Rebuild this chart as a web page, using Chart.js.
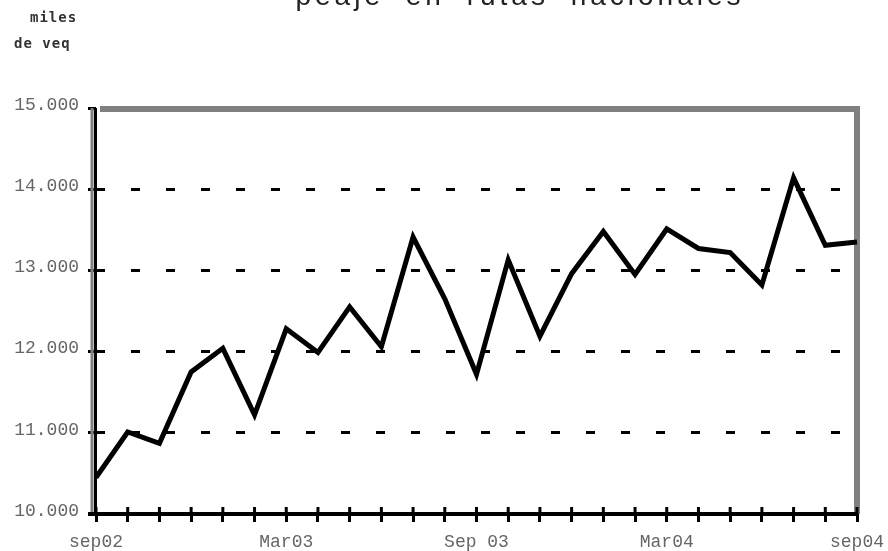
<!DOCTYPE html>
<html>
<head>
<meta charset="utf-8">
<script src="https://cdn.jsdelivr.net/npm/chart.js@4"></script>
<style>
html,body{margin:0;padding:0;background:#fff;overflow:hidden;}
#wrap{position:relative;width:888px;height:551px;overflow:hidden;}
#c{position:absolute;left:0;top:0;}
#title{position:absolute;left:96px;width:848px;text-align:center;top:-18px;font-family:"Liberation Sans",Arial,sans-serif;font-size:28px;line-height:28px;letter-spacing:4px;word-spacing:10px;color:#222;white-space:nowrap;}
.unit{position:absolute;font-family:"DejaVu Sans Mono",monospace;font-weight:bold;font-size:14px;line-height:16px;color:#333;letter-spacing:1px;white-space:nowrap;}
</style>
</head>
<body>
<div id="wrap">
<canvas id="c" width="888" height="551" style="width:888px;height:551px"></canvas>
<div id="title">peaje en rutas nacionales</div>
<div class="unit" style="left:30px;top:9px">miles</div>
<div class="unit" style="left:14px;top:35px">de veq</div>
</div>
<script>
const months = ['sep02','oct02','nov02','dic02','ene03','feb03','mar03','abr03','may03','jun03','jul03','ago03','sep03','oct03','nov03','dic03','ene04','feb04','mar04','abr04','may04','jun04','jul04','ago04','sep04'];
const traffic = [10450,11010,10870,11750,12040,11220,12280,11990,12550,12060,13410,12650,11720,13130,12190,12960,13480,12950,13510,13270,13220,12820,14140,13310,13350];
const xTickLabels = ['sep02','Mar03','Sep 03','Mar04','sep04'];
const yTickValues = [10000,11000,12000,13000,14000,15000];
const yTickLabels = ['10.000','11.000','12.000','13.000','14.000','15.000'];

const axisPlugin = {
  id: 'axisDeco',
  beforeDatasetsDraw(chart) {
    const ctx = chart.ctx, a = chart.chartArea, x = chart.scales.x;
    ctx.save();
    ctx.lineCap = 'butt';
    ctx.strokeStyle = '#808080';
    ctx.lineWidth = 6;
    ctx.beginPath();
    ctx.moveTo(a.left + 4, a.top + 1);
    ctx.lineTo(a.right, a.top + 1);
    ctx.lineTo(a.right, a.bottom);
    ctx.stroke();
    ctx.lineWidth = 3;
    ctx.beginPath();
    ctx.moveTo(a.left - 4, a.top);
    ctx.lineTo(a.left - 4, a.bottom);
    ctx.stroke();
    ctx.strokeStyle = '#000';
    ctx.beginPath();
    ctx.moveTo(a.left - 0.5, a.top);
    ctx.lineTo(a.left - 0.5, a.bottom);
    ctx.stroke();
    ctx.lineWidth = 4;
    ctx.beginPath();
    ctx.moveTo(a.left - 8, a.bottom);
    ctx.lineTo(a.right, a.bottom);
    ctx.stroke();
    ctx.lineWidth = 3;
    x.ticks.forEach((t, i) => {
      const px = x.getPixelForTick(i);
      ctx.beginPath();
      ctx.moveTo(px, a.bottom - 7);
      ctx.lineTo(px, a.bottom);
      ctx.stroke();
    });
    ctx.restore();
  }
};

new Chart(document.getElementById('c'), {
  type: 'line',
  data: {
    labels: months,
    datasets: [{
      data: traffic,
      borderColor: '#000',
      borderWidth: 5,
      pointRadius: 0,
      tension: 0,
      fill: false
    }]
  },
  options: {
    responsive: false,
    animation: false,
    devicePixelRatio: 1,
    layout: { padding: { top: 108, right: 31, left: 0, bottom: 0 } },
    plugins: { legend: { display: false }, tooltip: { enabled: false }, title: { display: false } },
    scales: {
      x: {
        type: 'category',
        offset: false,
        grid: { display: true, drawOnChartArea: false, drawTicks: true, tickLength: 8, tickColor: '#000', tickWidth: 3, offset: false },
        border: { display: false },
        ticks: {
          autoSkip: false, maxRotation: 0, minRotation: 0, padding: 9,
          color: '#666', font: { family: 'Liberation Mono', size: 18 },
          callback: (v, i) => (i % 6 === 0 ? xTickLabels[i / 6] : '')
        },
        afterFit: s => { s.height = 37; s.paddingRight = 0; s.paddingLeft = 0; }
      },
      y: {
        min: 10000, max: 15000,
        afterBuildTicks: s => { s.ticks = yTickValues.map(v => ({ value: v })); },
        grid: {
          color: c => (c.tick && (c.tick.value === 10000 || c.tick.value === 15000)) ? 'rgba(0,0,0,0)' : '#000',
          lineWidth: 3, tickLength: 8, tickColor: '#000', tickWidth: 3, tickBorderDash: []
        },
        border: { display: false, dash: [9, 26] },
        ticks: {
          color: '#666', font: { family: 'Liberation Mono', size: 18 }, padding: 9, labelOffset: -3,
          callback: (v) => yTickLabels[yTickValues.indexOf(v)]
        },
        afterFit: s => { s.width = 96; }
      }
    }
  },
  plugins: [axisPlugin]
});
</script>
</body>
</html>
